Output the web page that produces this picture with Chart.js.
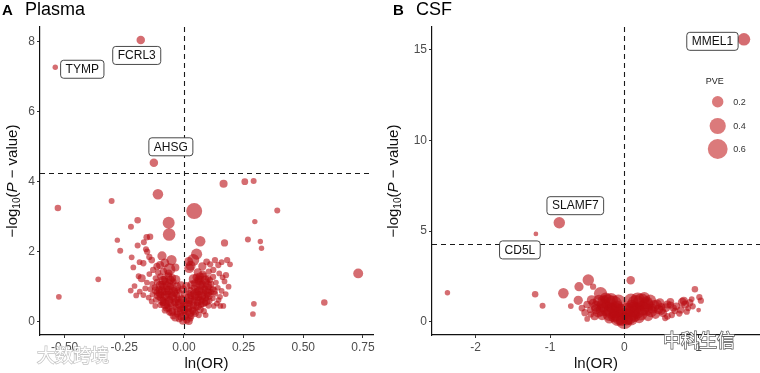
<!DOCTYPE html>
<html>
<head>
<meta charset="utf-8">
<script src="https://cdn.jsdelivr.net/npm/chart.js@4"></script>
<style>
  body { margin: 0; background: #fff; }
  #wrap { position: relative; width: 760px; height: 373px; overflow: hidden; }
  canvas { position: absolute; top: 0; }
</style>
</head>
<body>
<div id="wrap">
  <canvas id="plasma" width="380" height="373" style="left:0"></canvas>
  <canvas id="csf" width="380" height="373" style="left:380px"></canvas>
</div>
<script>
// ---- data: [ln(OR), -log10(P), PVE] ----
const plasmaGenes = [
  [-0.539, 7.27, 0.045], [-0.181, 8.05, 0.11], [-0.126, 4.54, 0.11],
  [0.166, 3.94, 0.10], [0.255, 4.00, 0.07], [0.292, 4.02, 0.055],
  [-0.109, 3.64, 0.17], [-0.303, 3.45, 0.055], [-0.528, 3.25, 0.065],
  [0.043, 3.16, 0.39], [0.391, 3.18, 0.055], [-0.194, 2.90, 0.065],
  [0.297, 2.86, 0.045], [-0.222, 2.71, 0.055], [-0.064, 2.83, 0.22],
  [-0.062, 2.49, 0.24], [-0.279, 2.33, 0.045], [-0.156, 2.41, 0.065],
  [-0.142, 2.43, 0.065], [0.068, 2.30, 0.17], [0.170, 2.25, 0.08],
  [0.268, 2.35, 0.055], [0.320, 2.29, 0.045], [0.325, 2.10, 0.045],
  [-0.267, 2.03, 0.055], [-0.194, 2.18, 0.055], [-0.168, 2.27, 0.055],
  [-0.159, 2.07, 0.055], [0.053, 1.93, 0.19], [-0.359, 1.21, 0.05],
  [-0.524, 0.71, 0.05], [0.730, 1.38, 0.15], [0.588, 0.55, 0.065],
  [0.293, 0.51, 0.05], [0.289, 0.22, 0.05], [-0.223, 0.89, 0.05],
  [-0.200, 0.75, 0.05], [0.187, 1.00, 0.05], [0.193, 1.64, 0.05],
  [0.181, 1.76, 0.06], [0.152, 0.45, 0.05], [0.091, 0.19, 0.05],
  [-0.207, 1.02, 0.05], [-0.219, 1.84, 0.05], [-0.212, 1.55, 0.05],
  [-0.170, 1.67, 0.06], [-0.154, 2.00, 0.06], [-0.135, 1.76, 0.07],
  [-0.092, 1.88, 0.13], [-0.052, 1.76, 0.16], [-0.129, 1.48, 0.06],
  [-0.177, 1.24, 0.10], [-0.170, 0.76, 0.05], [0.039, 1.76, 0.22],
  [0.095, 1.71, 0.07], [0.130, 1.76, 0.06], [0.144, 1.62, 0.06],
  [0.123, 1.48, 0.06], [0.176, 1.33, 0.06], [0.151, 0.71, 0.05],
  [0.165, 0.45, 0.05], [0.067, 1.29, 0.10], [0.109, 1.19, 0.06],
  [-0.061, 1.50, 0.22], [0.022, 1.53, 0.15], [-0.100, 1.62, 0.10],
  [-0.113, 1.58, 0.08], [-0.080, 1.68, 0.12], [-0.036, 1.55, 0.10],
  [0.028, 1.60, 0.15], [0.077, 1.58, 0.10], [0.110, 1.64, 0.06],
  [0.158, 1.70, 0.05], [-0.186, 1.70, 0.05], [-0.145, 1.85, 0.06],
  [0.020, 1.72, 0.12],
  // dense core
  [-0.004, 0.02, 0.09], [0.012, 0.05, 0.08], [-0.020, 0.08, 0.07], [0.026, 0.10, 0.07],
  [-0.045, 0.17, 0.08], [-0.028, 0.22, 0.07], [-0.012, 0.14, 0.09], [0.008, 0.20, 0.08],
  [0.030, 0.16, 0.07], [0.047, 0.24, 0.08], [0.062, 0.19, 0.06], [-0.061, 0.26, 0.06],
  [-0.079, 0.33, 0.07], [-0.064, 0.39, 0.08], [-0.048, 0.31, 0.09], [-0.033, 0.42, 0.08],
  [-0.017, 0.36, 0.07], [0.018, 0.38, 0.08], [0.036, 0.33, 0.09], [0.051, 0.41, 0.07],
  [0.068, 0.35, 0.08], [0.083, 0.30, 0.06], [0.002, 0.30, 0.06],
  [-0.098, 0.48, 0.06], [-0.085, 0.55, 0.08], [-0.070, 0.46, 0.07], [-0.056, 0.53, 0.09],
  [-0.041, 0.50, 0.08], [-0.024, 0.56, 0.07], [0.022, 0.52, 0.07], [0.040, 0.47, 0.09],
  [0.057, 0.55, 0.08], [0.072, 0.49, 0.07], [0.088, 0.53, 0.06], [0.103, 0.46, 0.06],
  [-0.008, 0.47, 0.05], [0.009, 0.58, 0.06],
  [-0.117, 0.63, 0.06], [-0.101, 0.69, 0.07], [-0.087, 0.61, 0.08], [-0.072, 0.70, 0.09],
  [-0.058, 0.64, 0.08], [-0.043, 0.68, 0.07], [-0.029, 0.62, 0.06], [0.030, 0.66, 0.07],
  [0.046, 0.61, 0.08], [0.061, 0.70, 0.09], [0.077, 0.63, 0.08], [0.092, 0.68, 0.07],
  [0.107, 0.60, 0.06], [0.121, 0.67, 0.05], [-0.012, 0.70, 0.05], [0.015, 0.72, 0.05],
  [-0.132, 0.78, 0.05], [-0.113, 0.84, 0.07], [-0.096, 0.77, 0.08], [-0.081, 0.86, 0.09],
  [-0.066, 0.79, 0.08], [-0.051, 0.85, 0.07], [-0.036, 0.80, 0.07], [-0.020, 0.86, 0.05],
  [0.021, 0.83, 0.05], [0.037, 0.79, 0.07], [0.052, 0.86, 0.08], [0.067, 0.78, 0.09],
  [0.082, 0.84, 0.08], [0.097, 0.77, 0.07], [0.112, 0.85, 0.06], [0.131, 0.80, 0.05],
  [-0.141, 0.93, 0.05], [-0.122, 0.98, 0.06], [-0.104, 0.92, 0.08], [-0.088, 1.00, 0.09],
  [-0.072, 0.94, 0.08], [-0.057, 1.01, 0.08], [-0.041, 0.95, 0.07], [0.042, 0.97, 0.07],
  [0.057, 0.92, 0.08], [0.071, 1.00, 0.09], [0.087, 0.94, 0.08], [0.102, 0.99, 0.07],
  [0.121, 0.93, 0.06], [0.142, 0.97, 0.05], [-0.026, 0.90, 0.05], [0.027, 0.91, 0.05],
  [-0.133, 1.08, 0.05], [-0.112, 1.13, 0.07], [-0.093, 1.07, 0.08], [-0.078, 1.15, 0.09],
  [-0.062, 1.09, 0.10], [-0.046, 1.14, 0.08], [0.045, 1.10, 0.08], [0.061, 1.15, 0.10],
  [0.076, 1.08, 0.09], [0.092, 1.13, 0.08], [0.113, 1.07, 0.07], [0.134, 1.12, 0.05],
  [-0.118, 1.24, 0.06], [-0.098, 1.29, 0.07], [-0.081, 1.22, 0.08], [-0.066, 1.30, 0.10],
  [-0.049, 1.25, 0.09], [0.052, 1.27, 0.09], [0.068, 1.22, 0.08], [0.083, 1.30, 0.08],
  [0.101, 1.24, 0.07], [0.122, 1.28, 0.06],
  [-0.108, 1.40, 0.06], [-0.086, 1.44, 0.08], [-0.064, 1.38, 0.09], [0.058, 1.41, 0.10],
  [0.079, 1.36, 0.08], [0.104, 1.43, 0.06], [-0.145, 1.36, 0.05], [0.148, 1.38, 0.05],
  [-0.155, 1.12, 0.05], [-0.162, 0.95, 0.05], [-0.148, 0.69, 0.05], [-0.185, 0.86, 0.05],
  [-0.120, 0.45, 0.05], [0.125, 0.45, 0.05], [0.158, 0.88, 0.05], [0.170, 1.15, 0.05],
  [0.145, 0.62, 0.05], [0.162, 1.27, 0.05], [-0.190, 1.30, 0.05], [0.175, 0.79, 0.05],
  [-0.135, 0.58, 0.05], [0.138, 0.52, 0.05],
  [-0.036, 0.12, 0.10], [0.020, 0.02, 0.10], [-0.052, 0.28, 0.10], [0.040, 0.30, 0.10],
  [-0.072, 0.40, 0.10], [0.058, 0.44, 0.10], [-0.090, 0.58, 0.10], [-0.062, 0.60, 0.12],
  [-0.035, 0.55, 0.10], [0.035, 0.57, 0.10], [0.066, 0.60, 0.12], [0.094, 0.58, 0.10],
  [-0.108, 0.74, 0.10], [-0.078, 0.75, 0.12], [-0.048, 0.74, 0.12], [0.045, 0.74, 0.12],
  [0.075, 0.73, 0.12], [0.104, 0.74, 0.10], [-0.118, 0.90, 0.10], [-0.092, 0.88, 0.12],
  [-0.064, 0.89, 0.12], [0.064, 0.88, 0.12], [0.094, 0.90, 0.12], [0.124, 0.88, 0.10],
  [-0.100, 1.04, 0.12], [-0.070, 1.03, 0.12], [0.068, 1.05, 0.12], [0.100, 1.04, 0.12],
  [-0.088, 1.18, 0.12], [-0.056, 1.19, 0.10], [0.060, 1.20, 0.10], [0.090, 1.19, 0.12],
  [-0.015, 0.26, 0.08], [0.018, 0.28, 0.08], [-0.005, 0.40, 0.07], [-0.022, 0.66, 0.06],
  [0.022, 0.60, 0.07], [-0.030, 0.76, 0.07], [0.028, 0.75, 0.07],
  [0.000, 0.35, 0.12], [0.004, 0.52, 0.14], [-0.006, 0.62, 0.12], [0.006, 0.78, 0.12],
  [-0.004, 0.92, 0.10], [0.010, 1.02, 0.10], [-0.012, 1.04, 0.10], [-0.018, 0.50, 0.15],
  [0.018, 0.45, 0.15], [-0.025, 0.30, 0.12], [0.025, 0.25, 0.12], [-0.030, 1.00, 0.12],
  [0.032, 1.05, 0.12], [-0.035, 1.20, 0.14], [0.040, 1.22, 0.14], [-0.045, 0.85, 0.16],
  [0.048, 0.80, 0.16], [-0.080, 0.50, 0.14], [0.080, 0.55, 0.14], [-0.100, 0.80, 0.12],
  [0.100, 0.82, 0.12], [0.000, 0.15, 0.12]
];

const csfGenes = [
  [1.61, 15.57, 0.24], [-0.875, 5.46, 0.20], [-1.19, 4.84, 0.035],
  [-2.38, 1.60, 0.045], [-1.20, 1.51, 0.065], [-1.10, 0.88, 0.055],
  [-0.82, 1.57, 0.17], [-0.485, 2.30, 0.20], [-0.61, 1.93, 0.13],
  [-0.62, 1.18, 0.13], [-0.72, 0.86, 0.05], [-0.32, 1.55, 0.27],
  [-0.42, 1.93, 0.06], [-0.44, 1.20, 0.14], [-0.46, 0.65, 0.06],
  [0.086, 2.28, 0.11], [0.95, 1.79, 0.065], [1.01, 1.35, 0.06],
  [1.03, 1.16, 0.06], [0.907, 1.25, 0.05], [0.78, 1.08, 0.12],
  [1.00, 0.64, 0.035], [0.86, 0.74, 0.05], [0.62, 0.92, 0.08],
  [0.64, 0.37, 0.06], [0.50, 0.83, 0.08],
  // dense core
  [0.00, 0.05, 0.42], [-0.06, 0.25, 0.38], [0.06, 0.28, 0.38], [-0.11, 0.45, 0.35],
  [0.11, 0.48, 0.35], [-0.17, 0.60, 0.40], [0.17, 0.62, 0.40], [-0.23, 0.72, 0.35],
  [0.24, 0.75, 0.35], [-0.15, 0.95, 0.50], [0.16, 0.98, 0.50], [-0.28, 0.90, 0.28],
  [0.30, 0.92, 0.30], [-0.05, 0.62, 0.30], [0.05, 0.66, 0.30], [-0.22, 1.08, 0.38],
  [0.23, 1.10, 0.42], [-0.35, 0.55, 0.20], [0.36, 0.58, 0.22], [-0.10, 0.82, 0.25],
  [0.10, 0.86, 0.25], [-0.30, 0.35, 0.15], [0.32, 0.30, 0.15], [-0.20, 0.20, 0.18],
  [0.20, 0.22, 0.18], [-0.38, 0.85, 0.18], [0.40, 0.88, 0.20], [-0.08, 1.12, 0.30],
  [0.09, 1.15, 0.32], [-0.40, 0.30, 0.10], [0.42, 0.40, 0.12], [0.46, 0.68, 0.14],
  [0.52, 0.48, 0.10], [0.56, 0.78, 0.12], [0.58, 0.30, 0.07], [0.68, 0.60, 0.07],
  [0.70, 0.85, 0.09], [0.74, 0.45, 0.06], [0.82, 0.95, 0.10], [0.84, 0.55, 0.06],
  [0.88, 1.05, 0.08], [0.92, 0.85, 0.06], [-0.50, 0.95, 0.09], [-0.53, 0.50, 0.08],
  [-0.57, 0.75, 0.07], [-0.25, 1.30, 0.20], [0.27, 1.32, 0.20], [-0.34, 1.15, 0.22],
  [0.35, 1.18, 0.20], [-0.45, 0.40, 0.06], [0.00, 0.45, 0.20], [-0.03, 0.12, 0.25],
  [0.03, 0.15, 0.25], [0.14, 0.30, 0.20], [-0.14, 0.28, 0.20], [0.48, 1.05, 0.12],
  [0.62, 1.10, 0.09], [0.55, 0.20, 0.06], [-0.50, 0.15, 0.05],
  [-0.09, 0.15, 0.30], [0.09, 0.18, 0.30], [-0.20, 0.42, 0.30], [0.22, 0.45, 0.30],
  [-0.30, 0.65, 0.25], [0.30, 0.68, 0.25], [-0.38, 0.70, 0.15], [0.38, 0.72, 0.15],
  [-0.12, 0.65, 0.35], [0.12, 0.68, 0.35], [-0.28, 1.10, 0.25], [0.30, 1.05, 0.25],
  [-0.18, 1.20, 0.30], [0.18, 1.22, 0.30], [0.44, 0.95, 0.15], [-0.42, 1.02, 0.12],
  [0.50, 0.62, 0.12], [0.58, 0.95, 0.10], [0.66, 0.75, 0.08], [0.76, 0.65, 0.08],
  [0.80, 1.15, 0.10]
];

const plasmaLabels = ['TYMP', 'FCRL3', 'AHSG'];   // first rows of plasmaGenes
const csfLabels = ['MMEL1', 'SLAMF7', 'CD5L'];     // first rows of csfGenes
const plasmaXTicks = [-0.5, -0.25, 0, 0.25, 0.5, 0.75];
const plasmaYTicks = [0, 2, 4, 6, 8];
const csfXTicks = [-2, -1, 0, 1];
const csfYTicks = [0, 5, 10, 15];
const pveLegend = [0.2, 0.4, 0.6];
const plasmaThreshold = 4.26;
const csfThreshold = 4.28;

// ---- styling ----
const FONT = '"Liberation Sans", Arial, sans-serif';
const PT_FILL = 'rgba(185, 12, 18, 0.6)';
const rad = p => 12.8 * Math.sqrt(p);

// label box offsets from their point, px
const labelOffsets = {
  TYMP: [27, 2], FCRL3: [-4, 15.5], AHSG: [17, -16],
  MMEL1: [-31.5, 2], SLAMF7: [16, -17], CD5L: [-16, 16]
};

function boxPath(ctx, x, y, w, h, r) {
  ctx.beginPath();
  ctx.moveTo(x + r, y);
  ctx.lineTo(x + w - r, y); ctx.quadraticCurveTo(x + w, y, x + w, y + r);
  ctx.lineTo(x + w, y + h - r); ctx.quadraticCurveTo(x + w, y + h, x + w - r, y + h);
  ctx.lineTo(x + r, y + h); ctx.quadraticCurveTo(x, y + h, x, y + h - r);
  ctx.lineTo(x, y + r); ctx.quadraticCurveTo(x, y, x + r, y);
  ctx.closePath();
}

const decor = {
  id: 'decor',
  afterDatasetsDraw(chart, args, o) {
    const { ctx, chartArea: a, scales: { x, y } } = chart;
    ctx.save();
    // cut-off lines
    ctx.strokeStyle = '#1a1a1a';
    ctx.lineWidth = 1.1;
    ctx.setLineDash([5, 4]);
    const px = Math.round(x.getPixelForValue(0)) + 0.5;
    const py = Math.round(y.getPixelForValue(o.threshold)) + 0.5;
    ctx.beginPath();
    ctx.moveTo(px, a.top); ctx.lineTo(px, a.bottom);
    ctx.moveTo(a.left, py); ctx.lineTo(a.right, py);
    ctx.stroke();
    ctx.setLineDash([]);

    // gene labels
    ctx.font = '12px ' + FONT;
    ctx.textAlign = 'center';
    ctx.textBaseline = 'middle';
    o.labels.forEach((name, i) => {
      const r = o.rows[i], off = labelOffsets[name];
      const cx = x.getPixelForValue(r[0]) + off[0];
      const cy = y.getPixelForValue(r[1]) + off[1];
      const w = ctx.measureText(name).width + 10, h = 18;
      boxPath(ctx, cx - w / 2, cy - h / 2, w, h, 3);
      ctx.fillStyle = '#fff'; ctx.fill();
      ctx.strokeStyle = '#333'; ctx.lineWidth = 0.9; ctx.stroke();
      ctx.fillStyle = '#111';
      ctx.fillText(name, cx, cy + 0.5);
    });
    ctx.restore();
  },
  afterDraw(chart, args, o) {
    const { ctx, chartArea: a } = chart;
    ctx.save();
    // panel tag + title
    ctx.fillStyle = '#000';
    ctx.textBaseline = 'alphabetic';
    ctx.textAlign = 'left';
    ctx.font = 'bold 15px ' + FONT;
    ctx.fillText(o.tag, o.tagX, 15);
    ctx.font = '18px ' + FONT;
    ctx.fillText(o.title, o.tagX + 23, 15);

    // x title
    ctx.textAlign = 'center';
    ctx.textBaseline = 'middle';
    ctx.font = '15px ' + FONT;
    ctx.fillStyle = '#111';
    ctx.fillText('ln(OR)', (a.left + a.right) / 2, 364);

    // y title: -log10(P - value)
    const parts = [
      ['\u2212log', '15px ' + FONT, 0],
      ['10', '10px ' + FONT, 4],
      ['(', '15px ' + FONT, 0],
      ['P', 'italic 15px ' + FONT, 0],
      [' \u2212 value)', '15px ' + FONT, 0]
    ];
    let total = 0;
    parts.forEach(p => { ctx.font = p[1]; p.push(ctx.measureText(p[0]).width); total += p[3]; });
    ctx.translate(o.yTitleX, (a.top + a.bottom) / 2);
    ctx.rotate(-Math.PI / 2);
    ctx.textAlign = 'left';
    let cur = -total / 2;
    parts.forEach(p => {
      ctx.font = p[1];
      ctx.fillText(p[0], cur, p[2]);
      cur += p[3];
    });
    ctx.setTransform(1, 0, 0, 1, 0, 0);

    // size legend
    if (o.legend) {
      const L = o.legend;
      ctx.fillStyle = '#222';
      ctx.font = '9px ' + FONT;
      ctx.textAlign = 'center';
      ctx.fillText('PVE', L.x - 3, L.titleY);
      L.ys.forEach((ly, i) => {
        ctx.beginPath();
        ctx.arc(L.x, ly, rad(pveLegend[i]), 0, Math.PI * 2);
        ctx.fillStyle = 'rgba(205, 70, 72, 0.72)';
        ctx.fill();
        ctx.fillStyle = '#333';
        ctx.textAlign = 'left';
        ctx.fillText(String(pveLegend[i]), L.x + 15.5, ly + 0.5);
      });
    }

    // watermark
    if (o.mark) {
      ctx.font = o.mark.weight + ' ' + o.mark.size + 'px "Noto Sans CJK SC"';
      ctx.textAlign = 'left';
      ctx.textBaseline = 'middle';
      ctx.lineWidth = 1.4;
      ctx.strokeStyle = o.mark.stroke;
      ctx.strokeText(o.mark.text, o.mark.x, o.mark.y);
      ctx.fillStyle = '#fff';
      ctx.fillText(o.mark.text, o.mark.x, o.mark.y);
    }
    ctx.restore();
  }
};

function axis(min, max, ticks, fmt, horizontal, size) {
  return {
    type: 'linear',
    min: min,
    max: max,
    afterBuildTicks: s => { s.ticks = ticks.map(v => ({ value: v })); },
    afterFit: s => {
      if (horizontal) { s.height = size; s.paddingLeft = 0; s.paddingRight = 0; }
      else { s.width = size; s.paddingTop = 0; s.paddingBottom = 0; }
    },
    grid: { display: true, drawOnChartArea: false, drawTicks: true, tickLength: 3, color: '#333', lineWidth: 1 },
    border: { display: true, color: '#111', width: 1.2 },
    ticks: {
      padding: 2,
      color: '#4d4d4d',
      font: { family: FONT, size: 12 },
      callback: fmt
    }
  };
}

function makeChart(id, rows, cfg) {
  return new Chart(document.getElementById(id), {
    type: 'scatter',
    data: {
      datasets: [{
        data: rows.map(r => ({ x: r[0], y: r[1], pve: r[2] })),
        backgroundColor: PT_FILL,
        borderWidth: 0,
        pointRadius: c => (c.raw ? rad(c.raw.pve) : 3),
        pointHoverRadius: c => (c.raw ? rad(c.raw.pve) : 3)
      }]
    },
    options: {
      responsive: false,
      animation: false,
      events: [],
      layout: { padding: cfg.padding, autoPadding: false },
      plugins: {
        legend: { display: false },
        tooltip: { enabled: false },
        decor: cfg.decor
      },
      scales: {
        x: axis(cfg.xMin, cfg.xMax, cfg.xTicks, cfg.xFmt, true, 38),
        y: axis(cfg.yMin, cfg.yMax, cfg.yTicks, v => String(v), false, cfg.yWidth)
      }
    },
    plugins: [decor]
  });
}

makeChart('plasma', plasmaGenes, {
  padding: { left: 0, right: 7, top: 27, bottom: 0 },
  xMin: -0.603, xMax: 0.792, xTicks: plasmaXTicks, xFmt: v => v.toFixed(2),
  yMin: -0.38, yMax: 8.42, yTicks: plasmaYTicks, yWidth: 40,
  decor: {
    tag: 'A', title: 'Plasma', tagX: 2, yTitleX: 13,
    threshold: plasmaThreshold, labels: plasmaLabels, rows: plasmaGenes,
    mark: { text: '大数跨境', x: 37, y: 355, size: 18, weight: 'normal', stroke: 'rgba(170,170,170,0.7)' }
  }
});

makeChart('csf', csfGenes, {
  padding: { left: 0, right: 0, top: 27, bottom: 0 },
  xMin: -2.588, xMax: 1.826, xTicks: csfXTicks, xFmt: v => String(v),
  yMin: -0.733, yMax: 16.25, yTicks: csfYTicks, yWidth: 52,
  decor: {
    tag: 'B', title: 'CSF', tagX: 13, yTitleX: 14,
    threshold: csfThreshold, labels: csfLabels, rows: csfGenes,
    legend: { x: 337.7, titleY: 82, ys: [101.7, 126, 149] },
    mark: { text: '中科生信', x: 283, y: 340, size: 18, weight: 'normal', stroke: 'rgba(70,70,70,0.9)' }
  }
});
</script>
</body>
</html>
